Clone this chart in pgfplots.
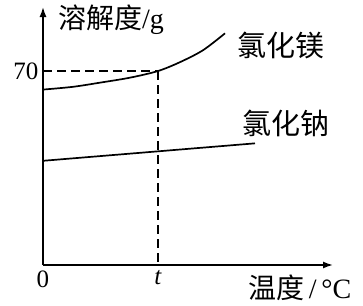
\documentclass[border=0pt]{standalone}
\usepackage{pgfplots}
\pgfplotsset{compat=1.18}
\usepackage{fontspec}
\setmainfont{Liberation Serif}
\newfontfamily\cjk{Noto Sans CJK SC}
\usetikzlibrary{arrows.meta}
\begin{document}
\begin{tikzpicture}[x=1pt,y=1pt]
\useasboundingbox (-43,-40) rectangle (320,265);
\begin{axis}[
  at={(0,0)}, anchor=south west,
  scale only axis, width=290pt, height=258pt,
  xmin=0, xmax=290, ymin=0, ymax=93.1,
  axis x line=bottom, axis y line=left,
  axis line style={line width=1.6pt, -{Latex[length=10pt,width=7pt]}},
  xtick={0,115}, xticklabels={0,\textit{t}},
  ytick={70}, yticklabels={70},
  major tick length=0pt,
  tick label style={font=\fontsize{25}{25}\selectfont},
  xticklabel style={yshift=-2pt},
  yticklabel style={xshift=-1pt},
  clip=false,
]
\addplot[black, line width=1.7pt, smooth] coordinates {
  (0,63.3) (30,64.3) (57,65.8) (87,67.6) (115,70) (137,73.2) (160,77.5) (182,83.6)};
\addplot[black, line width=1.7pt] coordinates {(0,37.6) (212,43.9)};
\addplot[black, line width=1.6pt, dash pattern=on 9pt off 5pt] coordinates {(0,70) (115,70)};
\addplot[black, line width=1.6pt, dash pattern=on 9pt off 5pt] coordinates {(115,70) (115,0)};
\end{axis}
\node[anchor=west, inner sep=0pt] at (15,245) {\fontsize{28}{28}\selectfont\cjk 溶解度\rmfamily/g};
\node[anchor=west, inner sep=0pt] at (194,220) {\fontsize{29}{29}\selectfont\cjk 氯化镁};
\node[anchor=west, inner sep=0pt] at (199,142) {\fontsize{29}{29}\selectfont\cjk 氯化钠};
\node[anchor=west, inner sep=0pt] at (205,-23) {\fontsize{28}{28}\selectfont\cjk 温度\rmfamily\,/\,°C};
\end{tikzpicture}
\end{document}
